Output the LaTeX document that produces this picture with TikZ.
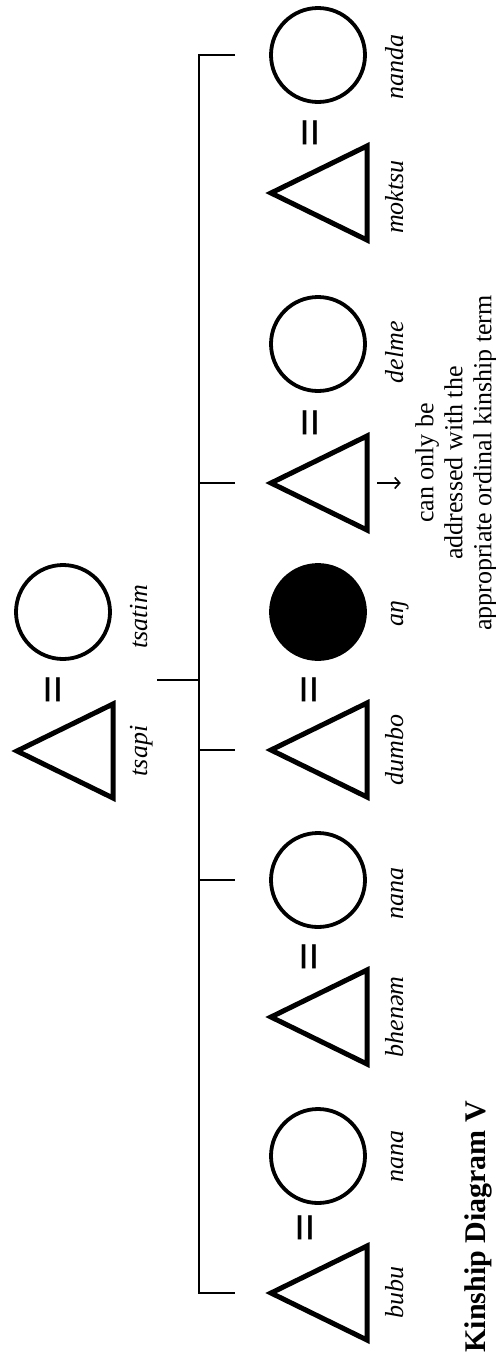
\documentclass[tikz,border=0pt]{standalone}
\usepackage{fontspec}
\setmainfont{Liberation Serif}
\usetikzlibrary{arrows.meta,positioning,shapes.geometric}

\begin{document}
\begin{tikzpicture}[
  x=0.5pt,y=-0.5pt,
  >={Straight Barb[length=2.5pt,width=5.5pt]},
  every node/.style={font=\fontsize{13}{14.5}\selectfont},
  male/.style={draw,line width=2.5pt,isosceles triangle,isosceles triangle stretches,
               shape border rotate=180,minimum width=47pt,minimum height=48pt,
               inner sep=0pt,outer sep=0pt,anchor=apex},
  female/.style={draw,circle,line width=1.9pt,minimum size=47pt,inner sep=0pt},
  ego/.style={female,fill=black},
  marr/.style={rotate=90,inner sep=0pt,font=\fontsize{26}{26}\selectfont\bfseries},
  lbl/.style={rotate=90,anchor=base,inner sep=0pt,font=\fontsize{13}{14.5}\selectfont\itshape},
  remark/.style={rotate=90,align=center,inner sep=0pt},
  capt/.style={rotate=90,anchor=base west,inner sep=0pt,font=\fontsize{15}{17}\selectfont\bfseries},
  kinline/.style={line width=1.3pt}
]
\useasboundingbox (0,0) rectangle (496,1355);

%% parents
\node[male]   (tsapi)  at (17,751)  {};
\node[marr]   (m0)     at (58,690)  {=};
\node[female] (tsatim) at (63,612)  {};
\node[lbl] (ltsapi)  at (147,751) {tsapi};
\node[lbl] (ltsatim) at (147,617) {tsatim};

%% children, bottom to top
\node[male]   (bubu)   at (271,1293) {};
\node[marr]   (m1)     at (310,1228) {=};
\node[female] (nana1)  at (318,1156) {};
\node[male]   (bhenem) at (271,1017) {};
\node[marr]   (m2)     at (314,957)  {=};
\node[female] (nana2)  at (318,880)  {};
\node[male]   (dumbo)  at (271,750)  {};
\node[marr]   (m3)     at (314,690)  {=};
\node[ego]    (ang)    at (318,612)  {};
\node[male]   (tri5)   at (271,483)  {};
\node[marr]   (m4)     at (315,423)  {=};
\node[female] (delme)  at (318,344)  {};
\node[male]   (moktsu) at (271,193)  {};
\node[marr]   (m5)     at (315,133)  {=};
\node[female] (nanda)  at (318,55)   {};

%% names
\node[lbl] (lbubu)   at (403,1292) {bubu};
\node[lbl] (lnana1)  at (403,1156) {nana};
\node[lbl] (lbhenem) at (403,1017) {bhenəm};
\node[lbl] (lnana2)  at (403,893)  {nana};
\node[lbl] (ldumbo)  at (403,750)  {dumbo};
\node[lbl] (lang)    at (403,614)  {aŋ};
\node[lbl] (ldelme)  at (403,352)  {delme};
\node[lbl] (lmoktsu) at (403,197)  {moktsu};
\node[lbl] (lnanda)  at (403,67)   {nanda};

\node[remark] (note) at (456,463)
  {can only be\\ addressed with the\\ appropriate ordinal kinship term};
\node[capt] (title) at (485,1353) {Kinship Diagram V};

%% descent lines
\coordinate (bar)  at (199,0);
\coordinate (desc) at (157,680);
\draw[kinline] (desc) -- (bar |- desc);
\draw[kinline] ([xshift=-17pt]nanda.west) -- (bar |- nanda.west)
  -- (bar |- bubu.apex) -- ([xshift=-18pt]bubu.apex);
\draw[kinline] ([xshift=-18pt]tri5.apex)  -- (bar |- tri5.apex);
\draw[kinline] ([xshift=-18pt]dumbo.apex) -- (bar |- dumbo.apex);
\draw[kinline] ([xshift=-17pt]nana2.west) -- (bar |- nana2.west);

\draw[->,line width=0.8pt,shorten <=5pt,shorten >=7pt]
  (tri5.east) -- (tri5.east -| note.north);

\end{tikzpicture}
\end{document}
